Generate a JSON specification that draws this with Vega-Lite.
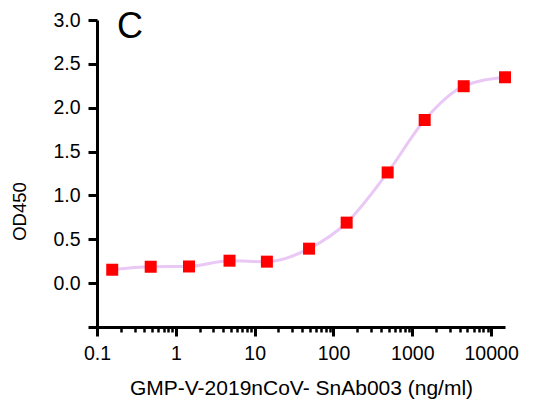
{
  "$schema": "https://vega.github.io/schema/vega-lite/v6.json",
  "width": 408,
  "height": 307,
  "autosize": {"type": "none"},
  "padding": {"left": 97, "top": 20, "right": 30, "bottom": 78},
  "background": "white",
  "config": {"view": {"stroke": null}, "font": "Liberation Sans"},
  "datasets": {
    "curve": [
      {"conc": 0.156, "od": 0.153},
      {"conc": 0.48, "od": 0.187},
      {"conc": 1.47, "od": 0.19},
      {"conc": 4.8, "od": 0.256},
      {"conc": 14.3, "od": 0.245},
      {"conc": 49, "od": 0.393},
      {"conc": 147, "od": 0.69},
      {"conc": 487, "od": 1.262},
      {"conc": 1436, "od": 1.86},
      {"conc": 4490, "od": 2.245},
      {"conc": 15000, "od": 2.347}
    ],
    "panel": [
      {"label": "C", "conc": 0.18, "od": 2.8}
    ]
  },
  "layer": [
    {
      "data": {"name": "curve"},
      "mark": {"type": "line", "color": "#E9C8F5", "strokeWidth": 3, "interpolate": "monotone"},
      "encoding": {
        "x": {
          "field": "conc",
          "type": "quantitative",
          "scale": {"type": "log", "domain": [0.1, 15000], "nice": false},
          "axis": {
            "values": [0.1, 0.2, 0.3, 0.4, 0.5, 0.6, 0.7, 0.8, 0.9, 1, 2, 3, 4, 5, 6, 7, 8, 9, 10, 20, 30, 40, 50, 60, 70, 80, 90, 100, 200, 300, 400, 500, 600, 700, 800, 900, 1000, 2000, 3000, 4000, 5000, 6000, 7000, 8000, 9000, 10000],
            "labelExpr": "indexof([0.1,1,10,100,1000,10000], datum.value) >= 0 ? (datum.value < 1 ? '0.1' : format(datum.value, 'd')) : ''",
            "tickSize": {"condition": {"test": "indexof([0.1,1,10,100,1000,10000], datum.value) >= 0", "value": 9}, "value": 5},
            "tickWidth": {"condition": {"test": "indexof([0.1,1,10,100,1000,10000], datum.value) >= 0", "value": 3}, "value": 2.5},
            "tickColor": "#000000",
            "domainColor": "#000000",
            "domainWidth": 3,
            "grid": false,
            "labelOverlap": false,
            "labelFlush": false,
            "labelFontSize": 19.5,
            "labelColor": "#000000",
            "labelPadding": 8,
            "title": "GMP-V-2019nCoV- SnAb003 (ng/ml)",
            "titleFontSize": 21,
            "titleFontWeight": "normal",
            "titleColor": "#000000",
            "titleBaseline": "alphabetic",
            "titleY": 67
          }
        },
        "y": {
          "field": "od",
          "type": "quantitative",
          "scale": {"domain": [-0.5, 3.0], "nice": false, "zero": false},
          "axis": {
            "values": [-0.5, 0, 0.5, 1, 1.5, 2, 2.5, 3],
            "labelExpr": "datum.value < 0 ? '' : format(datum.value, '.1f')",
            "tickSize": 9,
            "tickWidth": 3,
            "tickColor": "#000000",
            "domainColor": "#000000",
            "domainWidth": 3,
            "grid": false,
            "labelFlush": false,
            "labelOverlap": false,
            "labelFontSize": 19.5,
            "labelColor": "#000000",
            "labelPadding": 8,
            "title": "OD450",
            "titleFontSize": 18.5,
            "titleFontWeight": "normal",
            "titleColor": "#000000",
            "titleX": -68,
            "titleY": 191
          }
        }
      }
    },
    {
      "data": {"name": "curve"},
      "mark": {"type": "point", "shape": "square", "filled": true, "color": "#FF0000", "size": 144, "opacity": 1},
      "encoding": {
        "x": {"field": "conc", "type": "quantitative"},
        "y": {"field": "od", "type": "quantitative"}
      }
    },
    {
      "data": {"name": "panel"},
      "mark": {"type": "text", "fontSize": 36, "align": "left", "baseline": "alphabetic", "color": "#000000"},
      "encoding": {
        "x": {"field": "conc", "type": "quantitative"},
        "y": {"field": "od", "type": "quantitative"},
        "text": {"field": "label", "type": "nominal"}
      }
    }
  ]
}
